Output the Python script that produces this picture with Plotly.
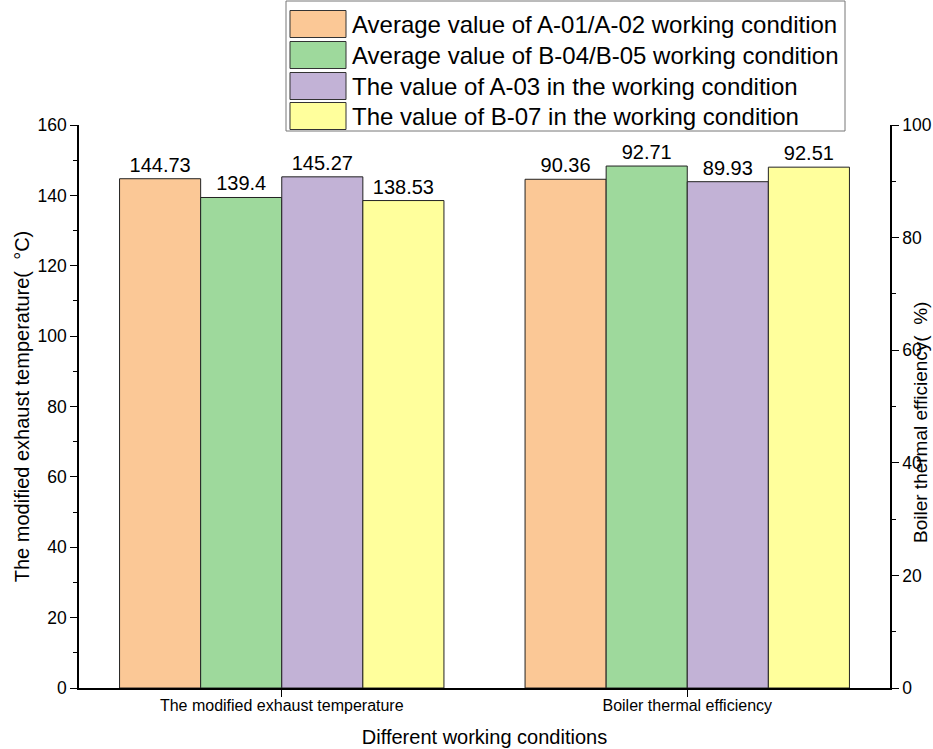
import plotly.graph_objects as go

# Data
categories = ["The modified exhaust temperature", "Boiler thermal efficiency"]
series_names = [
    "Average value of A-01/A-02 working condition",
    "Average value of B-04/B-05 working condition",
    "The value of A-03 in the working condition",
    "The value of B-07 in the working condition",
]
exhaust_temp = [144.73, 139.4, 145.27, 138.53]      # left axis, deg C
thermal_eff = [90.36, 92.71, 89.93, 92.51]          # right axis, %
colors = ["#FBC896", "#9ED99C", "#C2B2D6", "#FFFF9C"]

W, H = 933, 749
L, R, T, B = 79, 43, 125, 61
PW, PH = W - L - R, H - T - B

FONT = "Arial, Liberation Sans, sans-serif"
bar_w = 0.2

fig = go.Figure()
for i, name in enumerate(series_names):
    off = -0.4 + i * bar_w
    fig.add_trace(go.Bar(
        x=[0], y=[exhaust_temp[i]], name=name, yaxis="y",
        width=bar_w, offset=off,
        marker=dict(color=colors[i], line=dict(color="#222222", width=1)),
        text=[f"{exhaust_temp[i]:g}"], textposition="outside",
        textfont=dict(size=20, color="black", family=FONT),
        cliponaxis=False, showlegend=False,
    ))
    fig.add_trace(go.Bar(
        x=[1], y=[thermal_eff[i]], name=name, yaxis="y2",
        width=bar_w, offset=off,
        marker=dict(color=colors[i], line=dict(color="#222222", width=1)),
        text=[f"{thermal_eff[i]:g}"], textposition="outside",
        textfont=dict(size=20, color="black", family=FONT),
        cliponaxis=False, showlegend=False,
    ))


def px_x(px):
    return (px - L) / PW


def px_y(py):
    return (H - B - py) / PH


shapes = []
annotations = []

# Legend box drawn over the top of the plot area
shapes.append(dict(type="rect", xref="paper", yref="paper", layer="above",
                   x0=px_x(286), x1=px_x(845), y0=px_y(131), y1=px_y(1),
                   fillcolor="white", line=dict(color="#777777", width=1)))
row_centers = [24, 55, 86, 116]
for i, name in enumerate(series_names):
    cy = row_centers[i]
    shapes.append(dict(type="rect", xref="paper", yref="paper", layer="above",
                       x0=px_x(290), x1=px_x(346), y0=px_y(cy + 13.5), y1=px_y(cy - 13.5),
                       fillcolor=colors[i], line=dict(color="#333333", width=1)))
    annotations.append(dict(xref="paper", yref="paper", x=px_x(350), y=px_y(cy),
                            xanchor="left", yanchor="middle", showarrow=False,
                            text=name, font=dict(size=24, color="black", family=FONT)))

# Right axis title sits close to the axis
annotations.append(dict(xref="paper", yref="paper", x=px_x(920), y=px_y(423),
                        xanchor="center", yanchor="middle", showarrow=False, textangle=-90,
                        text="Boiler thermal efficiency(\u00a0\u00a0%)",
                        font=dict(size=19, color="black", family=FONT)))

fig.update_layout(
    width=W, height=H,
    margin=dict(l=L, r=R, t=T, b=B, pad=0),
    paper_bgcolor="white", plot_bgcolor="white",
    barmode="overlay",
    font=dict(family=FONT, color="black"),
    showlegend=False,
    xaxis=dict(
        range=[-0.5, 1.5], tickmode="array", tickvals=[0, 1], ticktext=categories,
        showline=True, linecolor="black", linewidth=1.5, ticks="outside", ticklen=7,
        tickcolor="black", tickfont=dict(size=16), showgrid=False, zeroline=False,
        automargin=False, ticklabelstandoff=-5,
        title=dict(text="Different working conditions", font=dict(size=20), standoff=17),
    ),
    yaxis=dict(
        range=[0, 160], dtick=20, showline=True, linecolor="black", linewidth=1.5,
        ticks="outside", ticklen=7, tickcolor="black", tickfont=dict(size=17.5),
        minor=dict(ticks="outside", dtick=10, ticklen=4, tickcolor="black"),
        showgrid=False, zeroline=False, automargin=False,
        title=dict(text="The modified exhaust temperature(\u00a0\u00a0°C)", font=dict(size=20), standoff=3),
    ),
    yaxis2=dict(
        range=[0, 100], dtick=20, overlaying="y", side="right", anchor="x",
        showline=True, linecolor="black", linewidth=1.5,
        ticks="outside", ticklen=7, tickcolor="black", tickfont=dict(size=17.5),
        minor=dict(ticks="outside", dtick=10, ticklen=4, tickcolor="black"),
        showgrid=False, zeroline=False, automargin=False,
    ),
    shapes=shapes,
    annotations=annotations,
)

fig.write_html("out.html")
